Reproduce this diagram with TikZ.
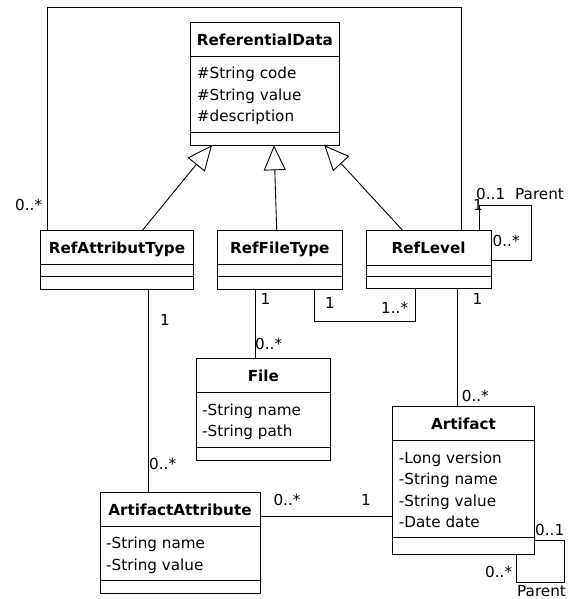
\documentclass[tikz,border=0pt]{standalone}
\usepackage{fontspec}
\setmainfont{DejaVu Sans}
\usetikzlibrary{arrows.meta}

\tikzset{
  classbox/.style={draw, line width=0.9pt, inner sep=0pt, outer sep=0pt, rectangle},
  divider/.style={line width=0.9pt},
  ctitle/.style={font=\fontsize{15.2}{18}\selectfont\bfseries, inner sep=0pt, anchor=base},
  cattr/.style={font=\fontsize{15.2}{18}\selectfont, inner sep=0pt, anchor=base west},
  mult/.style={font=\fontsize{15.2}{18}\selectfont, inner sep=0pt, anchor=base west},
  link/.style={line width=0.9pt},
  inherit/.style={line width=0.9pt, -{Triangle[open, length=25pt, width=22pt]}},
}

% class box: name, left, top, right, bottom, first divider, second divider, title
\newcommand\umlclass[8]{%
  \node[classbox, minimum width={(#4-#2)*1pt}, minimum height={(#5-#3)*1pt}]
    (#1) at ({(#2+#4)/2},{(#3+#5)/2}) {};
  \draw[divider] (#2,#6) -- (#4,#6);
  \draw[divider] (#2,#7) -- (#4,#7);
  \node[ctitle] (#1-t) at ({(#2+#4)/2},{#3+23}) {#8};
}
% attribute lines: name, left, first divider, list
\newcommand\umlattrs[4]{%
  \foreach \s [count=\i] in {#4} {
    \node[cattr] (#1-a\i) at ({#2+6},{#3+22.7+(\i-1)*21.5}) {\s};
  }
}

\begin{document}
\begin{tikzpicture}[x=1pt, y=-1pt]
\useasboundingbox (0,0) rectangle (574,599);

% classes
\umlclass{rd}{190.7}{22.7}{339}{145.3}{56}{132.7}{ReferentialData}
\umlattrs{rd}{190.7}{56}{\#String code,\#String value,\#description}

\umlclass{rat}{40.7}{230}{193.3}{289.3}{264.7}{276.7}{RefAttributType}
\umlclass{rft}{217.3}{230}{342.3}{289.3}{264.7}{276.7}{RefFileType}
\umlclass{rl}{366}{230}{491.3}{288.7}{265}{276.7}{RefLevel}

\umlclass{file}{196}{358.7}{330.7}{460}{392.3}{447.7}{File}
\umlattrs{file}{196}{392.3}{-String name,-String path}

\umlclass{art}{392.7}{406.7}{534.3}{554.3}{440.7}{537.7}{Artifact}
\umlattrs{art}{392.7}{440.7}{-Long version,-String name,-String value,-Date date}

\umlclass{aa}{100}{492}{260}{593.3}{526}{580.7}{ArtifactAttribute}
\umlattrs{aa}{100}{526}{-String name,-String value}

% generalizations
\draw[inherit] ([xshift=102pt]rat.north west) -- ([xshift=21.3pt]rd.south west);
\draw[inherit] ([xshift=59.4pt]rft.north west) -- ([xshift=83.3pt]rd.south west);
\draw[inherit] ([xshift=36.3pt]rl.north west) -- ([xshift=133.6pt]rd.south west);

% association RefAttributType -- RefLevel over the top
\coordinate (topleft) at (47.3,7.3);
\draw[link] ([xshift=6.6pt]rat.north west) -- (topleft)
  -| ([xshift=95.7pt]rl.north west);

% RefLevel parent loop
\coordinate (rlloop) at (531.7,205);
\draw[link] ([xshift=113pt]rl.north west) |- (rlloop)
  |- ([yshift=-30.7pt]rl.north east);

% RefFileType -- RefLevel
\coordinate (rftrl) at (314.3,321);
\draw[link] ([xshift=97pt]rft.south west) -- (rftrl)
  -| ([xshift=49pt]rl.south west);

% RefFileType -- File
\draw[link] ([xshift=37.7pt]rft.south west) -- ([xshift=59pt]file.north west);

% RefLevel -- Artifact
\draw[link] ([xshift=91.7pt]rl.south west) -- ([xshift=65pt]art.north west);

% RefAttributType -- ArtifactAttribute
\draw[link] ([xshift=108pt]rat.south west) -- ([xshift=48.7pt]aa.north west);

% ArtifactAttribute -- Artifact
\draw[link] ([yshift=-24.7pt]aa.north east) -- ([yshift=-24.7pt]aa.north east -| art.west);

% Artifact parent loop
\coordinate (artloop) at (564,582.7);
\draw[link] ([yshift=-134pt]art.north east) -| (artloop)
  -| ([xshift=123.3pt]art.south west);

% multiplicities and role names
\node[mult] (m1) at (15,210) {0..*};
\node[mult] (m2) at (476,199) {0..1};
\node[mult] (m3) at (515,199) {Parent};
\node[mult] (m4) at (473,210) {1};
\node[mult] (m5) at (492.5,246) {0..*};
\node[mult] (m6) at (325,308.3) {1};
\node[mult] (m7) at (381,313.3) {1..*};
\node[mult] (m8) at (472.3,304.3) {1};
\node[mult] (m9) at (260.3,304) {1};
\node[mult] (m10) at (255,349) {0..*};
\node[mult] (m11) at (461.7,401.7) {0..*};
\node[mult] (m12) at (160,325.7) {1};
\node[mult] (m13) at (149,469.3) {0..*};
\node[mult] (m14) at (273.3,505) {0..*};
\node[mult] (m15) at (361,505) {1};
\node[mult] (m16) at (535,535) {0..1};
\node[mult] (m17) at (485,577.7) {0..*};
\node[mult] (m18) at (517,596.8) {Parent};
\end{tikzpicture}
\end{document}
